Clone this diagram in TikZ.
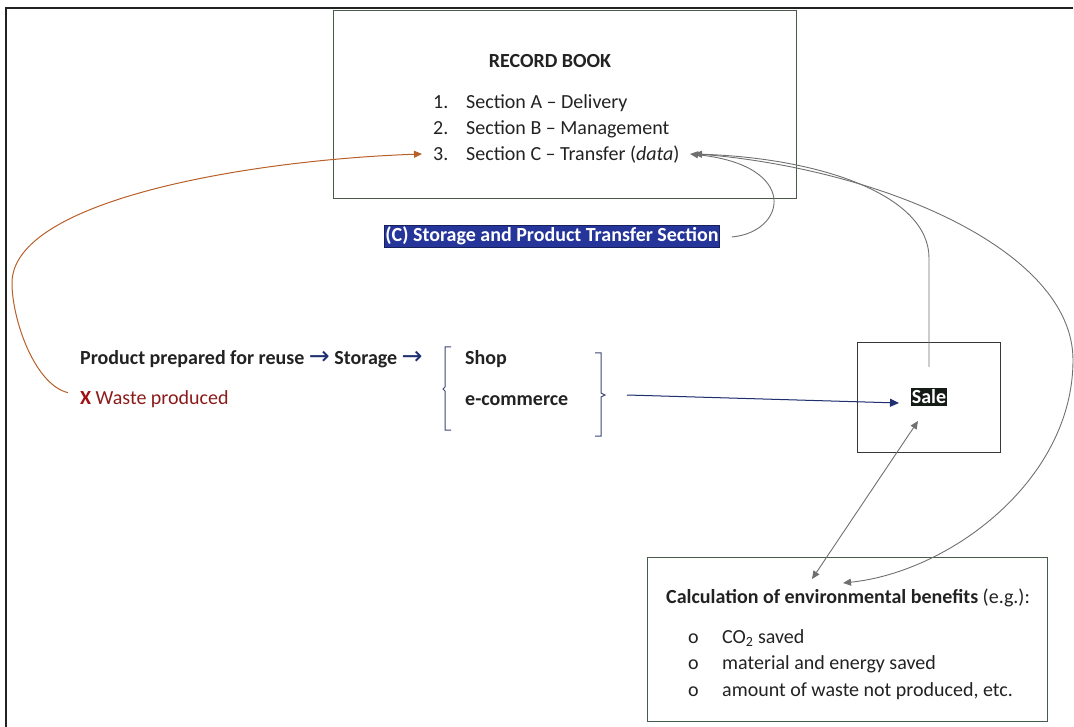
\documentclass[tikz,border=0pt]{standalone}
\usepackage{fontspec}
\setmainfont{Carlito}
\newfontfamily\arrowfont{DejaVu Sans}
\usetikzlibrary{arrows.meta}
\definecolor{txt}{HTML}{222222}
\definecolor{frameg}{HTML}{4A5A4A}
\definecolor{navy}{HTML}{1F2F6F}
\definecolor{lblue}{HTML}{25359A}
\definecolor{orng}{HTML}{B8602A}
\definecolor{wred}{HTML}{8B1B1B}
\definecolor{xred}{HTML}{A01010}
\definecolor{gline}{HTML}{707070}
\definecolor{salebg}{HTML}{151C15}
\tikzset{
  boxg/.style={draw=frameg, line width=1.2pt, anchor=north west, inner sep=0pt},
  boxd/.style={draw=txt!90, line width=1.2pt, anchor=north west, inner sep=0pt},
  lt/.style={anchor=base west, inner sep=0pt, text=txt},
  gcon/.style={draw=gline, line width=0.9pt},
  ghead/.style={-{Triangle[length=8pt,width=7pt]}},
  nav/.style={draw=navy, line width=1pt},
  brk/.style={draw=navy!70!gray, line width=1pt},
  bfnt/.style={font=\fontsize{20}{24}\selectfont\bfseries},
}
\newcommand{\flowarr}{{\color{navy}\mdseries\arrowfont\fontsize{25}{26}\selectfont\raisebox{-1pt}{→}}}
\begin{document}
\begin{tikzpicture}[x=1pt,y=-1pt,font=\fontsize{20}{24}\selectfont]
\useasboundingbox (0,0) rectangle (1074,727);
% outer frame (top and left)
\coordinate (ftl) at (6,8);
\coordinate (ftr) at (1073,8);
\coordinate (fbl) at (6,727);
\draw[line width=1.4pt, draw=txt] (ftr) -- (ftl) -- (fbl);

% record book
\node[boxg, minimum width=463pt, minimum height=188pt] (rb) at (333,10) {};
\node[anchor=base, inner sep=0pt, text=txt, bfnt] (title) at (550,68) {RECORD BOOK};
\node[lt] (n1) at (433,109) {1.};
\node[lt] (s1) at (466,109) {Section A – Delivery};
\node[lt] (n2) at (433,135) {2.};
\node[lt] (s2) at (466,135) {Section B – Management};
\node[lt] (n3) at (433,161) {3.};
\node[lt] (s3) at (466,161) {Section C – Transfer (\textit{data})};
\coordinate (dataR) at (690,154);
\coordinate (dataL) at (422,154);

% blue label
\node[fill=lblue, draw=lblue!60!black, text=white, bfnt, inner xsep=1pt, inner ysep=1pt, minimum height=22pt] (lab) at (552,236) {(C) Storage and Product Transfer Section};

% flow line
\node[lt, bfnt] (prod) at (80,364) {Product prepared for reuse \flowarr{} Storage \flowarr};
\node[lt, text=wred] (waste) at (80,404) {{\color{xred}\bfseries X} Waste produced};
\node[lt, bfnt] (shop) at (465,364) {Shop};
\node[lt, bfnt] (ecom) at (465,405) {e-commerce};

% brackets
\coordinate (lbt) at (451,347);
\coordinate (lbb) at (451,430);
\draw[brk] (lbt) -- ++(-6,0) -- ++(0,40) -- ++(-2,2) -- ++(2,2) -- (445,430) -- (lbb);
\coordinate (rbt) at (595,353);
\coordinate (rbb) at (595,436);
\coordinate (rbm) at (605,395);
\draw[brk] (rbt) -- ++(6,0) -- ++(0,40) -- (rbm) -- (601,397) -- (601,436) -- (rbb);
\coordinate (blueS) at (627,395);

% sale box
\node[boxd, minimum width=143pt, minimum height=110pt] (salebox) at (857,342) {};
\node[fill=salebg, text=white, bfnt, inner xsep=0.5pt, inner ysep=1.5pt] (sale) at (929,397) {Sale};
\coordinate (saleTop) at (929,367);
\coordinate (saleB) at (918,421);

% calculation box
\node[boxg, minimum width=400pt, minimum height=164pt] (calc) at (647,557) {};
\node[lt] (ctitle) at (666,603) {\textbf{Calculation of environmental benefits} (e.g.):};
\node[lt] (b1) at (688,643) {o};
\node[lt] (t1) at (722,643) {CO\textsubscript{2} saved};
\node[lt] (b2) at (688,669) {o};
\node[lt] (t2) at (722,669) {material and energy saved};
\node[lt] (b3) at (688,696) {o};
\node[lt] (t3) at (722,696) {amount of waste not produced, etc.};
\coordinate (calcA) at (812,579);
\coordinate (calcB) at (843,583);

% connectors
\draw[draw=orng, line width=1pt, -{Triangle[length=8pt,width=7pt]}] (waste.west) ++(-12,-6)
  .. controls (35,385) and (12,320) .. (12,283)
  .. controls (12,200) and (250,160) .. (dataL);
\draw[nav, -{Triangle[length=9pt,width=8pt]}, fill=navy] (blueS) -- (899,403);
\draw[gcon, ghead] (lab.east) ++(12,1)
  .. controls (787,232) and (800,165) .. (dataR);
\draw[gcon, ghead] (saleTop) -- (929,258)
  .. controls (929,195) and (820,158) .. ([xshift=4pt]dataR);
\draw[gcon, ghead] ([xshift=8pt]dataR)
  .. controls (880,168) and (1073,250) .. (1073,360)
  .. controls (1073,480) and (950,572) .. (calcB);
\draw[gcon, {Triangle[length=8pt,width=7pt]}-{Triangle[length=8pt,width=7pt]}] (saleB) -- (calcA);
\end{tikzpicture}
\end{document}
